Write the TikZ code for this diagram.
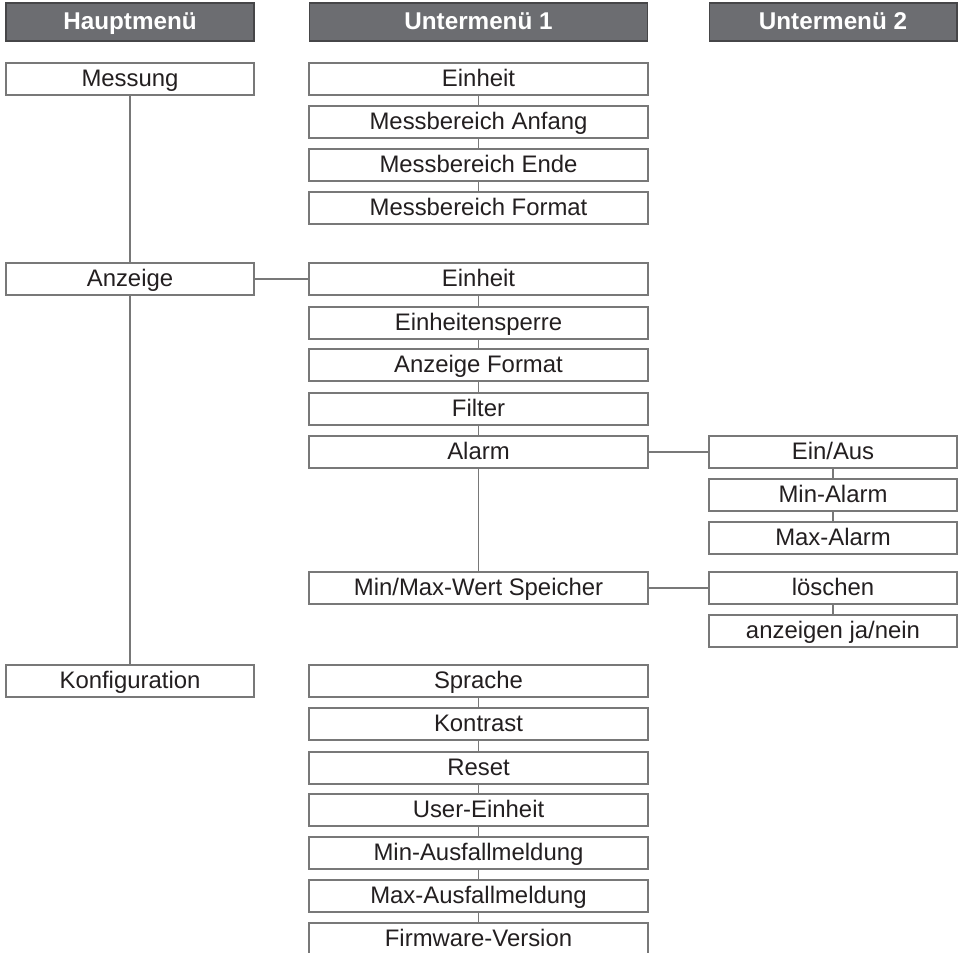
\documentclass[tikz,border=0pt]{standalone}
\usepackage{fontspec}
\setmainfont{Liberation Sans}
\definecolor{headfill}{RGB}{108,109,113}
\definecolor{headline}{RGB}{70,70,72}
\definecolor{boxline}{RGB}{120,120,120}
\definecolor{boxtext}{RGB}{35,31,32}
\begin{document}
\begin{tikzpicture}[
        x=0.02cm,
        y=-0.02cm,
        every node/.style={font=\fontsize{13.6}{16}\selectfont, text height=0.86em, text depth=0pt},
        head/.style={draw=headline, fill=headfill, text=white, font=\fontsize{13.8}{16}\selectfont\bfseries,
          minimum height=0.76cm, inner sep=0pt, line width=0.6pt},
        mainbox/.style={draw=boxline, fill=white, text=boxtext, minimum width=4.96cm,
          minimum height=0.64cm, inner sep=0pt, line width=0.8pt},
        subbox/.style={mainbox, minimum width=6.78cm},
        link/.style={draw=boxline, line width=0.8pt}
      ]

      % --- 1. 描画範囲 ---
      \clip (0, 0) rectangle (964, 953);

      % --- 2. 見出し ---
      \node[head, minimum width=4.96cm] (hHaupt) at (130, 22) {Hauptmenü};
      \node[head, minimum width=6.78cm] (hUnter1) at (478.5, 22) {Untermenü 1};
      \node[head, minimum width=4.96cm] (hUnter2) at (833, 22) {Untermenü 2};

      % --- 3. 主メニュー ---
      \node[mainbox] (mMessung) at (130, 79) {Messung};
      \node[mainbox] (mAnzeige) at (130, 279) {Anzeige};
      \node[mainbox] (mKonfig) at (130, 681) {Konfiguration};

      % --- 4. サブメニュー 1 ---
      % Messung
      \node[subbox] (sEinheit) at (478.5, 79) {Einheit};
      \node[subbox] (sMbAnfang) at (478.5, 122) {Messbereich Anfang};
      \node[subbox] (sMbEnde) at (478.5, 165) {Messbereich Ende};
      \node[subbox] (sMbFormat) at (478.5, 208) {Messbereich Format};

      % Anzeige
      \node[subbox] (sAzEinheit) at (478.5, 279) {Einheit};
      \node[subbox] (sSperre) at (478.5, 323) {Einheitensperre};
      \node[subbox] (sAzFormat) at (478.5, 365) {Anzeige Format};
      \node[subbox] (sFilter) at (478.5, 409) {Filter};
      \node[subbox] (sAlarm) at (478.5, 452) {Alarm};
      \node[subbox] (sSpeicher) at (478.5, 588) {Min/Max-Wert Speicher};

      % Konfiguration
      \node[subbox] (sSprache) at (478.5, 681) {Sprache};
      \node[subbox] (sKontrast) at (478.5, 724) {Kontrast};
      \node[subbox] (sReset) at (478.5, 768) {Reset};
      \node[subbox] (sUser) at (478.5, 810) {User-Einheit};
      \node[subbox] (sMinAus) at (478.5, 853) {Min-Ausfallmeldung};
      \node[subbox] (sMaxAus) at (478.5, 896) {Max-Ausfallmeldung};
      \node[subbox] (sFirmware) at (478.5, 939) {Firmware-Version};

      % --- 5. サブメニュー 2 ---
      \node[mainbox] (uEinAus) at (833, 452) {Ein/Aus};
      \node[mainbox] (uMinAlarm) at (833, 495) {Min-Alarm};
      \node[mainbox] (uMaxAlarm) at (833, 538) {Max-Alarm};
      \node[mainbox] (uLoeschen) at (833, 588) {löschen};
      \node[mainbox] (uJaNein) at (833, 631) {anzeigen ja/nein};

      % --- 6. 接続線 ---
      \draw[link] (mMessung) -- (mAnzeige);
      \draw[link] (mAnzeige) -- (mKonfig);
      \draw[link] (mAnzeige) -- (sAzEinheit);

      \draw[link] (sEinheit) -- (sMbAnfang);
      \draw[link] (sMbAnfang) -- (sMbEnde);
      \draw[link] (sMbEnde) -- (sMbFormat);

      \draw[link] (sAzEinheit) -- (sSperre);
      \draw[link] (sSperre) -- (sAzFormat);
      \draw[link] (sAzFormat) -- (sFilter);
      \draw[link] (sFilter) -- (sAlarm);
      \draw[link] (sAlarm) -- (sSpeicher);

      \draw[link] (sSprache) -- (sKontrast);
      \draw[link] (sKontrast) -- (sReset);
      \draw[link] (sReset) -- (sUser);
      \draw[link] (sUser) -- (sMinAus);
      \draw[link] (sMinAus) -- (sMaxAus);
      \draw[link] (sMaxAus) -- (sFirmware);

      \draw[link] (sAlarm) -- (uEinAus);
      \draw[link] (uEinAus) -- (uMinAlarm);
      \draw[link] (uMinAlarm) -- (uMaxAlarm);
      \draw[link] (sSpeicher) -- (uLoeschen);
      \draw[link] (uLoeschen) -- (uJaNein);

    \end{tikzpicture}
\end{document}
